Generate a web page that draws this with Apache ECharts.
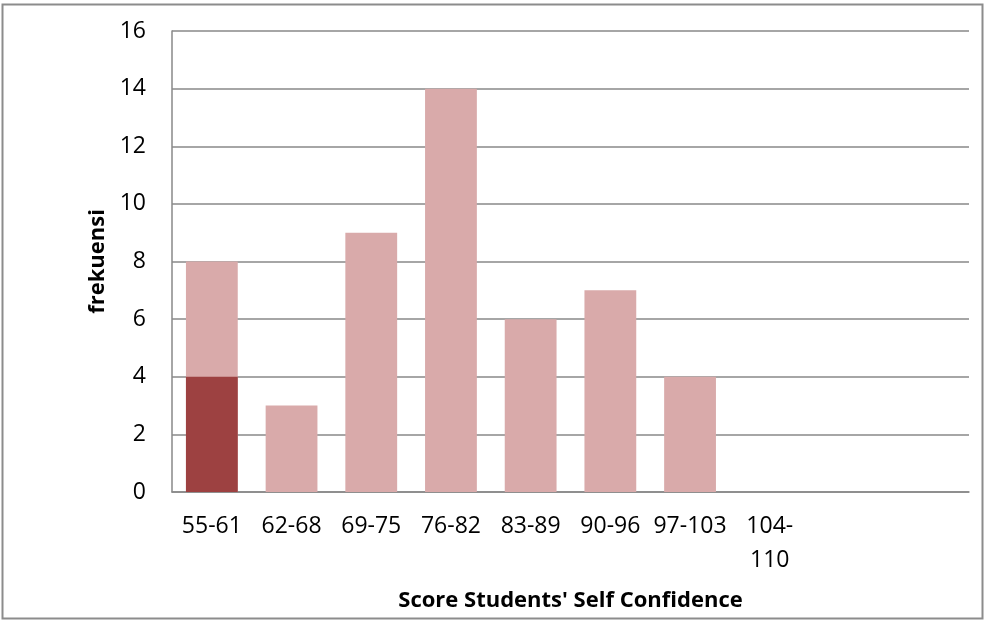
<!DOCTYPE html>
<html><head><meta charset="utf-8">
<script src="https://cdn.jsdelivr.net/npm/echarts@6/dist/echarts.min.js"></script>
<style>html,body{margin:0;padding:0;background:#fff}#c{width:985px;height:621px}</style>
</head><body><div id="c"></div>
<script>
const categories = ['55-61','62-68','69-75','76-82','83-89','90-96','97-103','104-\n110','',''];
const totalFreq = [8,3,9,14,6,7,4,0,null,null];
const highlightFreq = [4,null,null,null,null,null,null,null,null,null];
const yTicks = [0,2,4,6,8,10,12,14,16];
const yName = 'frekuensi';
const xName = "Score Students' Self Confidence";

const FONT = 'Open Sans';
const chart = echarts.init(document.getElementById('c'), null, {renderer:'canvas'});
chart.setOption({
  animation:false,
  backgroundColor:'#fff',
  textStyle:{fontFamily:FONT},
  graphic:[{type:'rect',shape:{x:2.5,y:4.5,width:980,height:614},style:{fill:'none',stroke:'#8c8c8c',lineWidth:2},silent:true}],
  grid:{left:172,right:16,top:31,bottom:129,containLabel:false},
  xAxis:{
    type:'category',data:categories,
    axisTick:{show:false},
    axisLine:{lineStyle:{color:'#888',width:1.5}},
    axisLabel:{color:'#000',fontSize:23,fontFamily:FONT,margin:17,interval:0,lineHeight:34,verticalAlign:'top'},
    name:xName,nameLocation:'middle',nameGap:98,
    nameTextStyle:{color:'#000',fontSize:22,fontWeight:'bold',fontFamily:FONT}
  },
  yAxis:{
    type:'value',min:yTicks[0],max:yTicks[yTicks.length-1],interval:2,
    axisLine:{show:true,lineStyle:{color:'#888',width:1.5}},
    axisTick:{show:false},
    splitLine:{lineStyle:{color:'#888',width:1.5}},
    axisLabel:{color:'#000',fontSize:23,fontFamily:FONT,margin:26},
    name:yName,nameLocation:'middle',nameGap:63,nameRotate:90,
    nameTextStyle:{color:'#000',fontSize:22,fontWeight:'bold',fontFamily:FONT}
  },
  series:[
    {type:'bar',data:totalFreq,barWidth:'65%',barGap:'-100%',itemStyle:{color:'#d9aaaa'}},
    {type:'bar',data:highlightFreq,barWidth:'65%',barGap:'-100%',itemStyle:{color:'#9d4141'}}
  ]
});
</script></body></html>
